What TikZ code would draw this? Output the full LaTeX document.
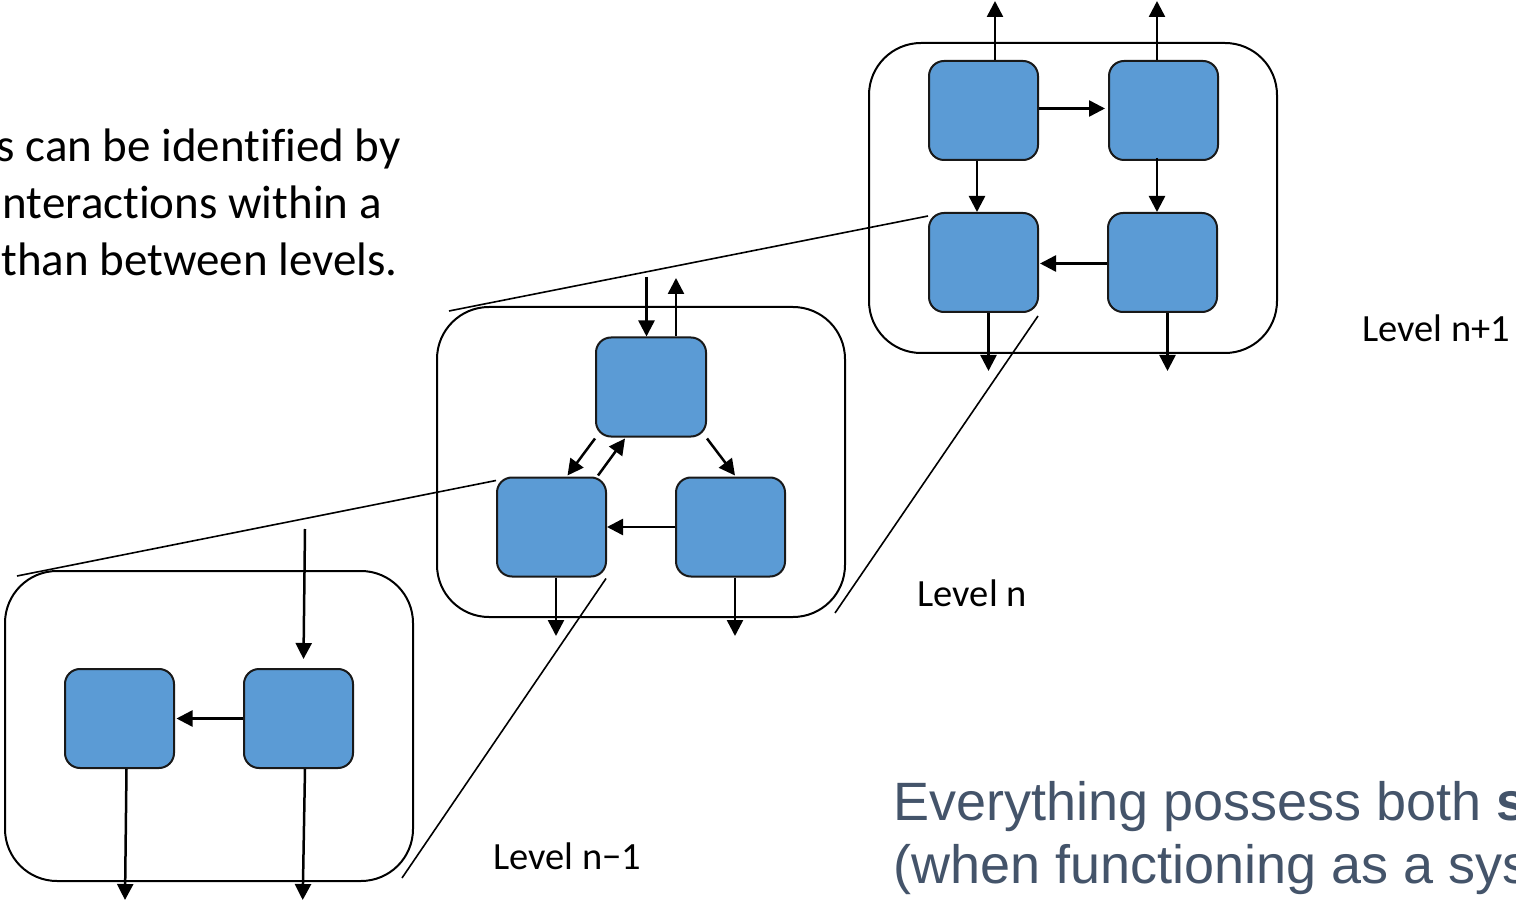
\documentclass[tikz,border=0pt]{standalone}
\usepackage{fontspec}
\setmainfont{Carlito}[Ligatures=CommonOff]
\newfontfamily\arialfont{Liberation Sans}
\usetikzlibrary{arrows.meta,calc}
\definecolor{boxblue}{HTML}{5B9BD5}
\definecolor{slate}{HTML}{44546A}

\begin{document}
\begin{tikzpicture}[x=1pt,y=-1pt,
  unit/.style={draw=black!90, line width=2pt, fill=boxblue, rounded corners=15pt,
               minimum width=109pt, minimum height=99pt, inner sep=0pt},
  levelbox/.style={draw=black, line width=2pt, rounded corners=52pt,
               minimum width=408pt, minimum height=310pt, inner sep=0pt},
  conn/.style={line width=2.5pt, -{Triangle[width=16pt,length=16pt]}},
  zoomline/.style={line width=1.6pt},
  lbl/.style={font=\fontsize{38.5}{46}\selectfont, anchor=base west, inner sep=0pt},
  body/.style={font=\fontsize{47}{56}\selectfont, anchor=base east, inner sep=0pt},
  note/.style={font=\arialfont\fontsize{54}{63}\selectfont, text=slate, anchor=base west, inner sep=0pt},
]
\useasboundingbox (0,0) rectangle (1516,901);
\clip (0,0) rectangle (1516,901);

% ---- containers (one per level) ----
\node[levelbox] (A) at (1073,198) {};
\node[levelbox] (B) at (641,462) {};
\node[levelbox] (C) at (209,726) {};

% ---- level n+1 ----
\node[unit] (tl) at (983.5,110.5) {};
\node[unit] (tr) at (1163.5,110.5) {};
\node[unit] (bl) at (983.5,262.5) {};
\node[unit] (br) at (1162.5,262.5) {};

\coordinate (tlup) at (995,1);
\coordinate (trup) at (1157,1);
\coordinate (bldn) at (988.5,371);
\coordinate (brdn) at (1167.5,371);

\draw[conn] (tl.north -| tlup) -- (tlup);
\draw[conn] (tr.north -| trup) -- (trup);
\draw[conn] ($(tl.east)+(0,-2)$) -- ($(tr.west)+(-3,-2)$);
\draw[conn] ($(tl.south)+(-6.5,0)$) -- ($(bl.north)+(-6.5,0)$);
\draw[conn] ($(tr.south)+(-6.5,-3)$) -- ($(br.north)+(-5.5,0)$);
\draw[conn] ($(br.west)+(0,1)$) -- ($(bl.east)+(1,1)$);
\draw[conn] (bl.south -| bldn) -- (bldn);
\draw[conn] (br.south -| brdn) -- (brdn);

% ---- level n ----
\node[unit, minimum width=110pt] (mt) at (651,387) {};
\node[unit] (ml) at (551.5,527) {};
\node[unit] (mr) at (730.5,527) {};

\coordinate (mtin) at (646.5,277);
\coordinate (mtout) at (676,278);
\coordinate (mldn) at (556,636);
\coordinate (mrdn) at (735,636);

\draw[conn] (mtin) -- (mt.north -| mtin);
\draw[conn] (mt.north -| mtout) -- (mtout);
\draw[conn] ($(mt.south west)+(0,1)$) -- ($(ml.north)+(16,-1)$);
\draw[conn] ($(ml.north east)+(-9,-1)$) -- ($(mt.south)+(-26,1)$);
\draw[conn] ($(mt.south east)+(0,1)$) -- ($(mr.north)+(4.5,-1)$);
\draw[conn] (mr.west) -- (ml.east);
\draw[conn] (ml.south -| mldn) -- (mldn);
\draw[conn] (mr.south -| mrdn) -- (mrdn);

% ---- level n-1 ----
\node[unit] (ll) at (119.5,718.5) {};
\node[unit] (lr) at (298.5,718.5) {};

\coordinate (lrin) at (305,529);
\coordinate (lldn) at (125,900);
\coordinate (lrdn) at (302.7,900);

\draw[conn] (lrin) -- ($(lr.north)+(5,-9)$);
\draw[conn] (lr.west) -- ($(ll.east)+(1.5,0)$);
\draw[conn] ($(ll.south)+(7,0)$) -- (lldn);
\draw[conn] ($(lr.south)+(6.5,0)$) -- (lrdn);

% ---- zoom lines between levels ----
\draw[zoomline] ($(bl.north west)+(0,4)$) -- ($(B.north west)+(13,5)$);
\draw[zoomline] ($(bl.south east)+(-1,3)$) -- ($(B.south east)+(-11,-5)$);
\draw[zoomline] ($(ml.north west)+(0,4)$) -- ($(C.north west)+(13,6)$);
\draw[zoomline] ($(ml.south east)+(-1,1)$) -- ($(C.south east)+(-12,-4)$);

% ---- labels ----
\node[lbl] (labA) at (1362,341.7) {Level n+1};
\node[lbl] (labB) at (917.5,606) {Level n};
\node[lbl] (labC) at (493,869) {Level n−1};

\node[body] (p1) at (401,161.7) {s can be identified by};
\node[body] (p2) at (382,218.7) {nteractions within a};
\node[body] (p3) at (398,275.7) {than between levels.};

\node[note] (q1) at (893,820) {Everything possess both \textbf{s}};
\node[note] (q2) at (893,883) {(when functioning as a sys};
\end{tikzpicture}
\end{document}
